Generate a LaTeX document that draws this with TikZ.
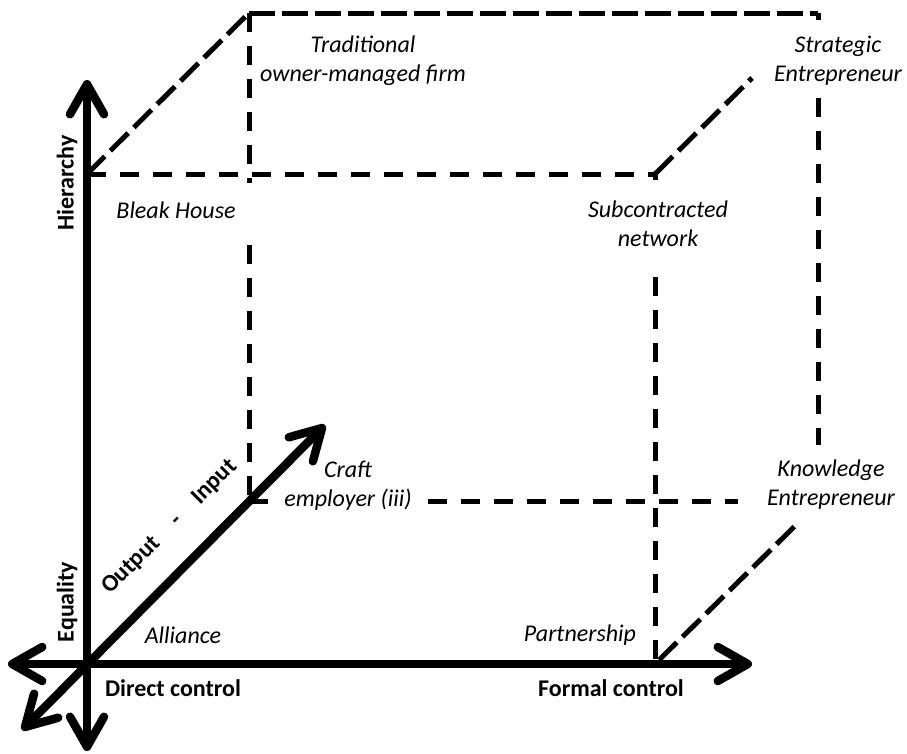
\documentclass[tikz,border=0pt]{standalone}
\usepackage{fontspec}
\setmainfont{Carlito}
\usetikzlibrary{arrows.meta}
\begin{document}
\begin{tikzpicture}[x=1pt,y=-1pt,
  cube/.style={line width=5pt, dash pattern=on 19pt off 14pt},
  cubelong/.style={line width=5pt, dash pattern=on 26pt off 7pt},
  cubediag/.style={line width=5pt, dash pattern=on 25pt off 8pt},
  barb/.tip={Straight Barb[length=30pt,width=34pt,round]},
  axis/.style={line width=8.5pt, barb-barb},
  lab/.style={font=\fontsize{24}{29}\selectfont\itshape, align=center, inner sep=0pt},
  axlab/.style={font=\fontsize{24}{29}\selectfont\bfseries, inner sep=0pt}]
\useasboundingbox (0,0) rectangle (907,753);
% cube corners
\coordinate (Ftl) at (87,174);
\coordinate (Ftr) at (655,174);
\coordinate (Fbr) at (655,664);
\coordinate (Btl) at (249,13);
\coordinate (Btr) at (818,13);
\coordinate (Bbr) at (818,501);
\coordinate (Bbl) at (249,501);
% break points
\coordinate (bl1) at (249,183);
\coordinate (bl2) at (249,245);
\coordinate (fr1) at (655,180);
\coordinate (fr2) at (655,277);
\coordinate (br1) at (818,20);
\coordinate (br2) at (818,98);
\coordinate (br3) at (818,445);
\coordinate (dg1) at (752,78);
\coordinate (bb1) at (268,501);
\coordinate (bb2) at (428,501);
\coordinate (bb3) at (738,501);
\coordinate (dg2) at (659,660);
\coordinate (dg3) at (798,523);
% dashed cube edges
\draw[cubediag] (Ftl) -- (Btl);
\draw[cubelong] (Btl) -- (Btr);
\draw[line width=5pt] (Btr) -- (br1);
\draw[cube] (br2) -- (br3);
\draw[cube] (Ftl) -- (Ftr);
\draw[line width=5pt] (Ftr) -- (fr1);
\draw[cube] (fr2) -- (Fbr);
\draw[cubediag] (Ftr) -- (dg1);
\draw[cube] (Btl) -- (bl1);
\draw[cube] (bl2) -- (Bbl);
\draw[cube] (Bbl) -- (bb1);
\draw[cube] (bb2) -- (bb3);
\draw[cubediag] (dg2) -- (dg3);
% labels
\node[lab] (trad) at (363,61) {Traditional\\owner-managed firm};
\node[lab] (strat) at (838,61) {Strategic\\Entrepreneur};
\node[lab] (bleak) at (176,210) {Bleak House};
\node[lab] (subc) at (658,224) {Subcontracted\\network};
\node[lab] (craft) at (348,486) {Craft\\employer (iii)};
\node[lab] (know) at (831,485) {Knowledge\\Entrepreneur};
\node[lab] (part) at (580,635) {Partnership};
\node[lab] (alli) at (183,635) {Alliance};
\node[axlab] (dc) at (173,688) {Direct control};
\node[axlab] (fc) at (611,688) {Formal control};
\node[axlab, rotate=90] (hier) at (67,183) {Hierarchy};
\node[axlab, rotate=90] (equa) at (67,602) {Equality};
\node[axlab, rotate=45] (oi) at (170,527) {Output\quad -\quad Input};
% axes
\coordinate (O) at (87,664);
\coordinate (vtop) at (87,80);
\coordinate (vbot) at (87,751);
\coordinate (hl) at (8,664);
\coordinate (hr) at (752,664);
\coordinate (dbl) at (22,730);
\coordinate (dtr) at (325,425);
\draw[axis] (vbot) -- (vtop);
\draw[axis] (hl) -- (hr);
\draw[axis] (dbl) -- (dtr);
\end{tikzpicture}
\end{document}
